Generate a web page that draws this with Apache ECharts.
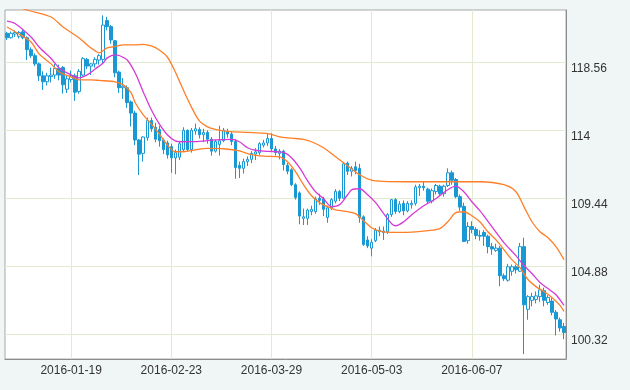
<!DOCTYPE html>
<html><head><meta charset="utf-8">
<script src="https://cdn.jsdelivr.net/npm/echarts@6/dist/echarts.min.js"></script>
<style>html,body{margin:0;padding:0;background:#f0f5f5;}#c{width:630px;height:390px;}</style>
</head><body><div id="c"></div>
<script>
const dates = ['2015-12-28','2015-12-29','2015-12-30','2015-12-31','2016-01-01',
'2016-01-04','2016-01-05','2016-01-06','2016-01-07','2016-01-08',
'2016-01-11','2016-01-12','2016-01-13','2016-01-14','2016-01-15',
'2016-01-18','2016-01-19','2016-01-20','2016-01-21','2016-01-22',
'2016-01-25','2016-01-26','2016-01-27','2016-01-28','2016-01-29',
'2016-02-01','2016-02-02','2016-02-03','2016-02-04','2016-02-05',
'2016-02-08','2016-02-09','2016-02-10','2016-02-11','2016-02-12',
'2016-02-15','2016-02-16','2016-02-17','2016-02-18','2016-02-19',
'2016-02-22','2016-02-23','2016-02-24','2016-02-25','2016-02-26',
'2016-02-29','2016-03-01','2016-03-02','2016-03-03','2016-03-04',
'2016-03-07','2016-03-08','2016-03-09','2016-03-10','2016-03-11',
'2016-03-14','2016-03-15','2016-03-16','2016-03-17','2016-03-18',
'2016-03-21','2016-03-22','2016-03-23','2016-03-24','2016-03-25',
'2016-03-28','2016-03-29','2016-03-30','2016-03-31','2016-04-01',
'2016-04-04','2016-04-05','2016-04-06','2016-04-07','2016-04-08',
'2016-04-11','2016-04-12','2016-04-13','2016-04-14','2016-04-15',
'2016-04-18','2016-04-19','2016-04-20','2016-04-21','2016-04-22',
'2016-04-25','2016-04-26','2016-04-27','2016-04-28','2016-04-29',
'2016-05-02','2016-05-03','2016-05-04','2016-05-05','2016-05-06',
'2016-05-09','2016-05-10','2016-05-11','2016-05-12','2016-05-13',
'2016-05-16','2016-05-17','2016-05-18','2016-05-19','2016-05-20',
'2016-05-23','2016-05-24','2016-05-25','2016-05-26','2016-05-27',
'2016-05-30','2016-05-31','2016-06-01','2016-06-02','2016-06-03',
'2016-06-06','2016-06-07','2016-06-08','2016-06-09','2016-06-10',
'2016-06-13','2016-06-14','2016-06-15','2016-06-16','2016-06-17',
'2016-06-20','2016-06-21','2016-06-22','2016-06-23','2016-06-24',
'2016-06-27','2016-06-28','2016-06-29','2016-06-30','2016-07-01',
'2016-07-04','2016-07-05','2016-07-06','2016-07-07','2016-07-08'];

// [open, close, low, high]
const candles = [
[120.50,120.20,120.05,120.60],[120.20,120.50,120.15,120.62],[120.45,120.55,120.25,120.70],[120.30,120.55,120.15,120.65],[120.60,120.20,120.10,120.80],
[120.20,119.40,118.70,120.30],[119.40,119.00,118.85,119.55],[119.00,118.45,118.30,119.15],[118.45,117.65,117.30,118.55],[117.65,117.25,116.70,117.95],
[117.25,117.65,117.00,117.85],[117.60,117.70,117.20,118.20],[117.70,118.15,117.45,118.45],[118.15,117.70,117.35,118.40],[118.20,117.05,116.45,118.30],
[116.75,117.45,116.50,117.65],[117.40,117.65,117.20,118.00],[117.65,116.55,115.97,117.80],[116.60,117.95,116.45,118.10],[117.70,118.80,117.60,118.90],
[118.75,118.30,118.10,118.85],[118.30,118.45,117.70,118.50],[118.45,118.75,118.20,118.90],[118.70,119.00,118.40,119.10],[118.75,121.05,118.50,121.70],
[121.35,120.95,120.70,121.60],[120.95,120.05,119.80,121.05],[120.00,117.85,117.55,120.05],[117.90,116.85,116.50,118.00],[116.85,116.95,116.10,117.50],
[116.85,115.85,115.50,117.00],[115.90,115.15,114.25,116.00],[115.15,113.35,113.00,115.30],[113.35,112.40,111.00,113.40],[112.45,113.55,111.90,113.60],
[113.50,114.65,113.30,114.85],[114.65,114.10,113.90,114.85],[114.20,113.40,113.20,114.50],[114.05,113.30,112.90,114.30],[113.35,112.70,112.40,113.45],
[113.15,112.35,112.10,113.30],[112.90,112.15,111.15,113.10],[112.15,112.50,111.05,112.70],[112.20,113.10,112.00,113.30],[112.70,114.00,112.60,114.20],
[114.00,112.70,112.60,114.05],[112.70,114.00,112.50,114.15],[113.95,114.10,113.70,114.45],[114.05,113.70,113.45,114.20],[113.70,113.85,113.20,114.10],
[113.85,113.40,113.10,114.00],[113.40,112.60,112.30,113.55],[112.60,113.25,112.50,113.35],[113.05,113.30,112.30,114.30],[113.30,114.00,113.20,114.15],
[113.90,113.75,113.50,114.10],[113.75,113.25,113.00,113.90],[113.25,111.50,110.75,113.40],[111.65,111.45,110.80,111.90],[111.45,111.90,111.10,112.10],
[111.90,112.05,111.60,112.25],[112.05,112.45,111.80,112.60],[112.40,112.55,112.00,112.80],[112.50,113.10,112.35,113.20],[113.00,113.15,112.85,113.35],
[113.15,113.45,112.95,113.80],[113.45,112.75,112.55,113.80],[112.75,112.50,112.30,112.95],[112.45,112.60,112.05,112.75],[112.60,111.70,111.30,112.70],
[111.65,111.25,111.05,111.80],[111.35,110.35,110.25,111.45],[110.35,109.50,109.35,110.45],[109.80,108.25,107.70,109.90],[108.10,108.20,107.65,108.75],
[108.10,108.65,107.65,108.75],[108.55,108.70,108.30,108.95],[108.55,109.40,108.40,109.55],[109.45,109.30,109.00,109.75],[109.40,108.70,108.25,109.55],
[108.15,108.80,107.80,108.95],[108.80,109.35,108.65,109.45],[109.25,109.90,109.10,110.05],[109.90,109.45,109.25,110.00],[109.45,111.75,109.40,111.85],
[111.80,111.25,111.00,111.90],[111.25,111.45,110.90,111.60],[111.55,111.30,111.05,111.90],[111.45,108.15,107.80,111.75],[108.20,106.35,106.25,108.30],
[106.65,106.25,106.10,106.90],[106.10,106.50,105.55,106.70],[106.60,107.30,106.50,107.45],[107.20,107.30,106.90,107.55],[107.25,107.15,106.65,107.55],
[107.20,108.35,107.05,108.45],[108.35,109.35,108.20,109.40],[109.35,108.55,108.40,109.45],[108.55,109.05,108.45,109.25],[109.10,108.60,108.30,109.30],
[108.60,109.10,108.50,109.25],[109.00,109.10,108.75,109.30],[109.10,110.20,108.95,110.35],[110.15,110.25,109.60,110.40],[110.25,110.15,109.95,110.55],
[110.05,109.25,109.10,110.15],[109.25,109.95,109.10,110.10],[109.90,110.30,109.70,110.40],[110.25,109.75,109.60,110.35],[109.75,110.25,109.55,110.35],
[110.30,111.15,110.20,111.45],[111.15,110.65,110.35,111.30],[110.70,109.55,109.45,110.80],[109.55,108.85,108.60,109.70],[108.90,106.55,106.50,109.15],
[106.60,107.55,106.40,107.85],[107.55,107.35,107.10,107.90],[107.35,106.95,106.70,107.50],[106.90,106.95,106.60,107.30],[107.15,106.90,106.25,107.30],
[106.90,106.20,105.75,107.00],[106.20,106.05,105.65,106.45],[105.95,106.10,105.85,106.40],[106.10,104.25,103.55,106.25],[104.25,104.05,103.90,104.40],
[103.95,104.85,103.85,105.05],[104.55,104.85,104.25,105.00],[104.85,104.65,104.40,105.00],[104.55,106.20,104.50,106.45],[106.20,102.30,99.00,106.80],
[102.00,102.85,101.30,102.95],[102.60,102.85,102.20,103.10],[102.65,102.90,102.40,103.20],[102.85,103.30,102.50,103.65],[103.25,102.60,102.20,103.45],
[102.45,102.80,102.30,102.95],[102.55,101.80,101.60,102.75],[101.80,101.35,100.25,101.95],[101.30,100.75,100.50,101.45],[100.85,100.45,100.00,101.10]
];

// [category index, value]
const movingAvg = [[0,121.32],[2,121.16],[6,120.25],[8,119.58],[11,118.81],[13,118.18],[16,117.71],[18,117.51],[20,117.71],[22,118.11],[24,118.51],[25,118.85],[27,119.05],[28,119.01],[30,118.71],[32,117.84],[34,116.57],[36,115.37],[38,114.43],[40,113.70],[42,113.29],[44,113.23],[48,113.25],[52,113.36],[56,113.39],[58,113.23],[60,112.83],[62,112.66],[65,112.59],[69,112.51],[71,112.16],[73,111.49],[75,110.62],[77,109.88],[79,109.41],[81,108.88],[83,109.01],[85,109.68],[86,110.01],[88,110.08],[90,109.68],[92,109.15],[94,108.41],[96,107.74],[97,107.60],[99,107.87],[101,108.34],[104,108.94],[107,109.41],[110,110.01],[112,110.25],[114,109.88],[116,109.21],[118,108.61],[121,107.54],[124,106.47],[127,105.60],[129,104.94],[131,104.40],[133,103.80],[135,103.39],[137,102.98],[139,102.26]];
const upperBand = [[0,122.53],[5,122.06],[11,121.59],[14,120.92],[18,120.19],[20,119.72],[22,119.32],[23,119.18],[25,119.52],[27,119.62],[29,119.72],[32,119.72],[34,119.76],[36,119.65],[38,119.38],[40,118.91],[42,117.91],[44,116.71],[46,115.57],[48,114.63],[50,114.23],[52,114.06],[55,113.93],[60,113.86],[64,113.81],[66,113.73],[68,113.56],[71,113.47],[74,113.39],[76,113.23],[79,112.83],[82,112.22],[85,111.62],[88,111.02],[91,110.65],[94,110.57],[100,110.55],[110,110.55],[118,110.55],[124,110.35],[127,109.88],[129,108.88],[131,107.87],[133,107.20],[135,106.80],[137,106.20],[139,105.33]];
const lowerBand = [[0,120.92],[3,120.45],[6,119.92],[8,119.12],[11,118.45],[13,117.91],[16,117.58],[18,117.38],[21,117.38],[23,117.34],[27,117.24],[29,117.04],[31,116.51],[32,115.84],[34,115.03],[36,114.43],[38,113.76],[40,113.02],[42,112.56],[44,112.56],[47,112.69],[50,112.79],[54,112.76],[58,112.62],[61,112.36],[64,112.26],[68,112.22],[70,111.89],[72,111.22],[74,110.35],[76,109.61],[78,109.15],[80,108.88],[82,108.67],[85,108.54],[87,108.41],[89,107.94],[91,107.47],[93,107.24],[96,107.16],[100,107.16],[105,107.27],[108,107.41],[110,107.87],[112,108.48],[114,108.54],[116,108.27],[118,107.87],[120,107.20],[122,106.67],[124,106.00],[126,105.33],[128,104.80],[130,104.00],[132,103.52],[134,103.19],[136,102.79],[138,102.26],[139,101.86]];

const yTicks = [100.32, 104.88, 109.44, 114, 118.56];
const xTickDates = ['2016-01-19','2016-02-23','2016-03-29','2016-05-03','2016-06-07'];

const BLUE = '#1a98d4', ORANGE = '#ff7f27', MAGENTA = '#d63ad6', GRIDC = '#e0ebcf';
const FONT = '"Liberation Sans", Arial, Helvetica, sans-serif';

const chart = echarts.init(document.getElementById('c'), null, {renderer: 'canvas'});
chart.setOption({
  animation: false,
  backgroundColor: '#f0f5f5',
  grid: {left: 5, right: 64, top: 10, bottom: 31, show: true, backgroundColor: '#ffffff', borderColor: '#a8a8a8', borderWidth: 1},
  xAxis: {
    type: 'category', data: dates, boundaryGap: true,
    axisLine: {show: true, lineStyle: {color: '#8c8c8c', width: 1}},
    axisTick: {show: false},
    splitLine: {show: false},
    axisLabel: {
      color: '#333', fontSize: 12, fontFamily: FONT, margin: 6,
      interval: (i, v) => xTickDates.indexOf(v) >= 0
    }
  },
  yAxis: {
    type: 'value', position: 'right', min: 98.67, max: 122.06, scale: true,
    axisLine: {show: true, lineStyle: {color: '#8c8c8c', width: 1}},
    axisTick: {show: false},
    splitLine: {show: false},
    axisLabel: {
      color: '#333', fontSize: 12, fontFamily: FONT, margin: 5, verticalAlign: 'top',
      customValues: yTicks,
      formatter: v => String(+v.toFixed(2))
    }
  },
  series: [
    {
      type: 'candlestick', data: candles, barWidth: 3, z: 3,
      itemStyle: {color: '#ffffff', color0: BLUE, borderColor: BLUE, borderColor0: BLUE, borderWidth: 1},
      markLine: {
        silent: true, z: 1, symbol: ['none', 'none'], animation: false,
        label: {show: false},
        lineStyle: {color: GRIDC, width: 1, type: 'solid'},
        emphasis: {disabled: true},
        data: yTicks.map(v => ({yAxis: v})).concat(xTickDates.map(d => ({xAxis: d})))
      }
    },
    {type: 'line', data: upperBand, smooth: 0.3, showSymbol: false, z: 4, lineStyle: {color: ORANGE, width: 1.3}},
    {type: 'line', data: lowerBand, smooth: 0.3, showSymbol: false, z: 4, lineStyle: {color: ORANGE, width: 1.3}},
    {type: 'line', data: movingAvg, smooth: 0.3, showSymbol: false, z: 5, lineStyle: {color: MAGENTA, width: 1.3}}
  ]
});
</script></body></html>
